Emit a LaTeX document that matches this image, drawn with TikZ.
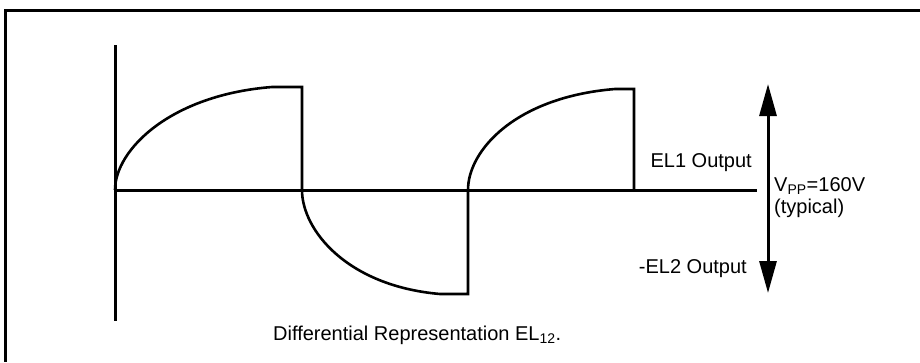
\documentclass[tikz,border=0pt]{standalone}
\usepackage{fontspec}
\setmainfont{Liberation Sans}
\usetikzlibrary{arrows.meta}
\begin{document}
\begin{tikzpicture}[x=1pt,y=-1pt,
  wave/.style={line width=2.6pt, line join=miter},
  axis/.style={line width=3pt},
  lbl/.style={inner sep=0pt, font=\fontsize{20}{23}\selectfont},
  dimarrow/.style={line width=3pt, {Triangle[width=17pt,length=32pt]}-{Triangle[width=17pt,length=32pt]}}]
\useasboundingbox (0,0) rectangle (920,362);
% frame (top and left edges visible)
\draw[line width=3pt] (920,10) -- (5,10) -- (5,362);
% axes
\coordinate (o) at (115,190);
\coordinate (ytop) at (115,45);
\coordinate (ybot) at (115,321);
\coordinate (xend) at (757,190);
\draw[axis] (ytop) -- (ybot);
\draw[axis] (o) -- (xend);
% waveform
\draw[wave] (o) .. controls (115,150) and (170,95) .. (272,87) -- (302,87) -- (302,190)
  .. controls (302,230) and (347,286) .. (440,294) -- (468,294) -- (468,190)
  .. controls (468,150) and (516,97) .. (615,89) -- (634,89) -- (634,190);
% peak-to-peak arrow
\coordinate (atop) at (768,84);
\coordinate (abot) at (768,293);
\draw[dimarrow] (atop) -- (abot);
% labels
\node[lbl, anchor=base east] (el1) at (752,167) {EL1 Output};
\node[lbl, anchor=base east] (el2) at (747,273) {-EL2 Output};
\node[lbl, anchor=base west] (vpp) at (774,191) {V\textsubscript{PP}=160V};
\node[lbl, anchor=base west] (typ) at (774,213) {(typical)};
\node[lbl, anchor=base west] (cap) at (273,340) {Differential Representation EL\textsubscript{12}.};
\end{tikzpicture}
\end{document}
